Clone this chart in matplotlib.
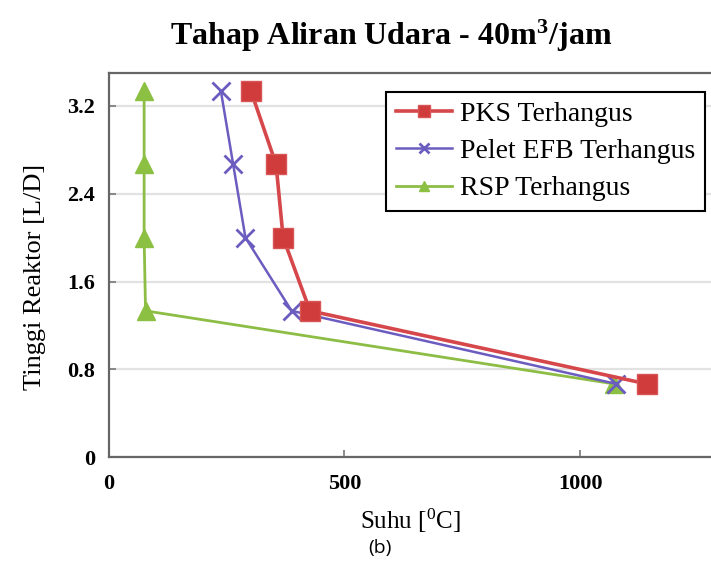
import matplotlib
matplotlib.use("Agg")
import matplotlib.pyplot as plt


# tinggi reaktor (L/D) untuk setiap titik ukur
TINGGI = [3.333, 2.667, 2.0, 1.333, 0.667]

SUHU_PKS = [302, 355, 370, 427, 1142]
SUHU_EFB = [238, 264, 290, 388, 1077]
SUHU_RSP = [75, 75, 75, 78, 1073]

LABELS = ["PKS Terhangus", "Pelet EFB Terhangus", "RSP Terhangus"]

X_TICKS = [0, 500, 1000]
Y_TICKS = [0, 0.8, 1.6, 2.4, 3.2]
Y_TICK_LABELS = ["0", "0.8", "1.6", "2.4", "3.2"]

SERIF = "Liberation Serif"

plt.rcParams["mathtext.fontset"] = "custom"
plt.rcParams["mathtext.rm"] = SERIF
plt.rcParams["mathtext.bf"] = SERIF + ":bold"
plt.rcParams["mathtext.it"] = SERIF + ":italic"


def plotSuhu():
    fig = plt.figure(figsize=(7.11, 5.75), dpi=100)
    ax = fig.add_axes([0.153, 0.205, 0.847, 0.668])

    ax.plot(SUHU_PKS, TINGGI, color="#d5474a", lw=2.6, marker="s", ms=15,
            mfc="#d03b3b", mec="#d95555", label=LABELS[0], zorder=4)
    ax.plot(SUHU_EFB, TINGGI, color="#6b5cc0", lw=1.8, marker="x", ms=13,
            mew=2, label=LABELS[1], zorder=3)
    ax.plot(SUHU_RSP, TINGGI, color="#8dbd45", lw=2.0, marker="^", ms=13,
            mfc="#8cc043", mec="#8cc043", label=LABELS[2], zorder=2)

    ax.set_xlim(0, 1278)
    ax.set_ylim(0, 3.5)
    ax.set_xticks(X_TICKS)
    ax.set_xticklabels([str(t) for t in X_TICKS], fontfamily=SERIF,
                       fontweight="bold", fontsize=16)
    ax.set_yticks(Y_TICKS)
    ax.set_yticklabels(Y_TICK_LABELS, fontfamily=SERIF, fontweight="bold",
                       fontsize=16)
    ax.tick_params(axis="x", direction="in", length=5, width=1.2,
                   color="#777777", pad=12)
    ax.tick_params(axis="y", direction="in", length=5, width=1.2,
                   color="#777777", pad=10)

    ax.yaxis.grid(True, color="#e2e2e2", lw=1.6)
    ax.set_axisbelow(True)
    for side in ["left", "bottom", "top"]:
        ax.spines[side].set_color("#666666")
        ax.spines[side].set_linewidth(1.6)
    ax.spines["right"].set_visible(False)

    ax.set_xlabel("Suhu [$^0$C]", fontfamily=SERIF, fontsize=18, labelpad=9)
    ax.set_ylabel("Tinggi Reaktor [L/D]", fontfamily=SERIF, fontsize=19)
    ax.yaxis.set_label_coords(-0.105, 0.47)

    fig.text(0.55, 0.938, "Tahap Aliran Udara - 40m$^\\mathbf{3}$/jam",
             fontfamily=SERIF, fontweight="bold", fontsize=23,
             ha="center", va="center")

    leg = ax.legend(loc="upper right", bbox_to_anchor=(0.99, 0.951),
                    borderaxespad=0, fancybox=False, framealpha=1,
                    edgecolor="black", numpoints=1, markerscale=0.6,
                    handlelength=2.0, handletextpad=0.3, borderpad=0.35,
                    labelspacing=0.42, prop={"family": SERIF, "size": 20})
    leg.get_frame().set_linewidth(1.5)

    fig.text(0.535, 1 - 548 / 575, "(b)", fontfamily="Open Sans", fontsize=14,
             ha="center", va="center")

    fig.savefig("out.png", dpi=100)


if __name__ == '__main__':
    plotSuhu()
